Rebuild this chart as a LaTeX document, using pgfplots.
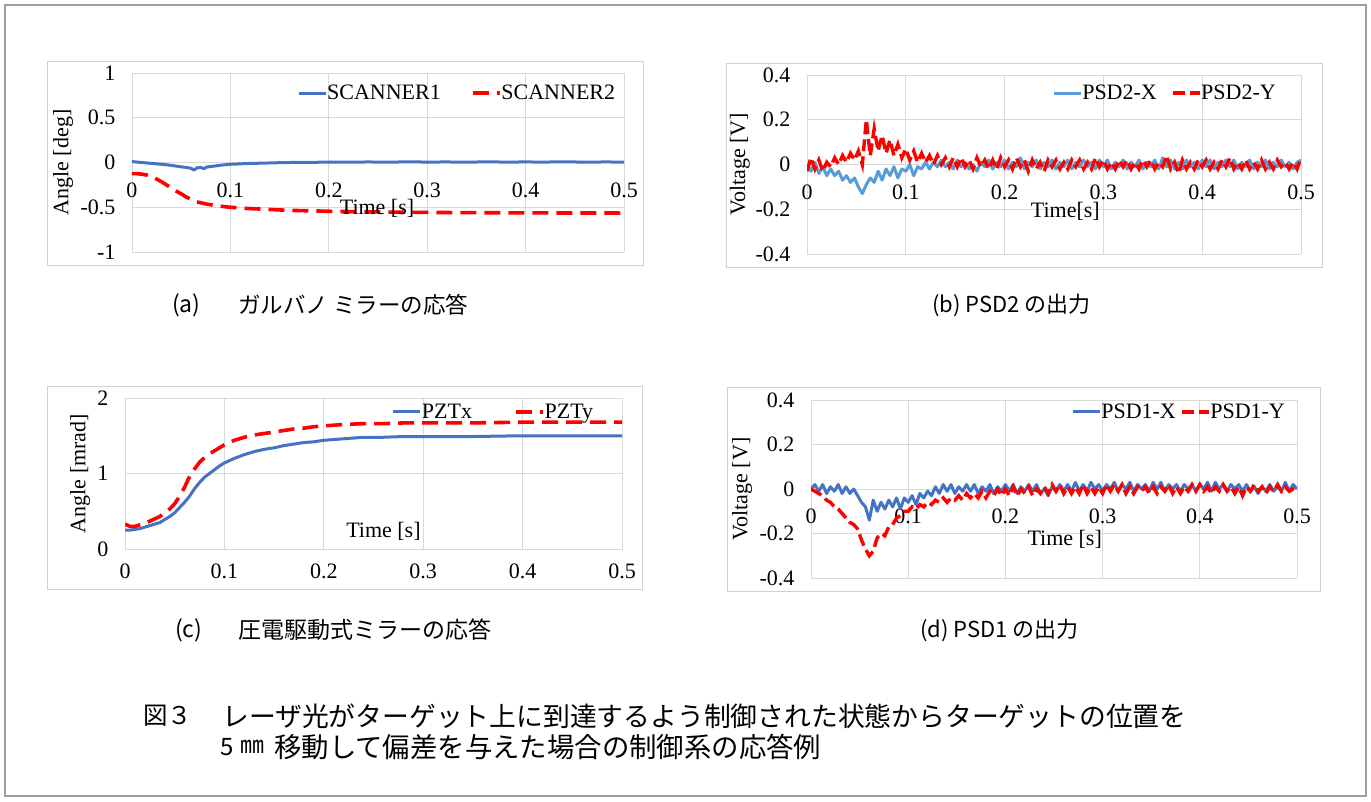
\documentclass[border=0pt]{standalone}
\usepackage{fontspec}
\setmainfont{Liberation Serif}
\newfontfamily\jp{Noto Sans CJK JP}
\usepackage{pgfplots}
\pgfplotsset{compat=1.18}
\usepackage{pgfplotstable}
\definecolor{xlblue}{HTML}{4472C4}
\definecolor{xlblueb}{HTML}{5B9BD5}
\definecolor{xlred}{HTML}{FF0000}
\definecolor{gridc}{HTML}{D9D9D9}
\definecolor{framec}{HTML}{D0D0D0}

\pgfplotstableread{
t s1 s2
0.000 0.010 -0.125
0.005 0.005 -0.125
0.010 0.000 -0.130
0.015 -0.005 -0.140
0.020 -0.010 -0.160
0.025 -0.015 -0.185
0.030 -0.020 -0.215
0.035 -0.025 -0.250
0.040 -0.032 -0.285
0.045 -0.040 -0.320
0.050 -0.048 -0.350
0.055 -0.055 -0.385
0.060 -0.065 -0.410
0.063 -0.085 -0.425
0.066 -0.060 -0.440
0.070 -0.055 -0.450
0.073 -0.070 -0.458
0.076 -0.050 -0.465
0.080 -0.045 -0.472
0.085 -0.038 -0.480
0.090 -0.030 -0.488
0.095 -0.025 -0.495
0.100 -0.020 -0.500
0.110 -0.015 -0.508
0.120 -0.010 -0.515
0.130 -0.008 -0.520
0.140 -0.005 -0.525
0.150 -0.002 -0.530
0.160 0.000 -0.534
0.170 0.002 -0.537
0.180 0.000 -0.540
0.190 0.003 -0.542
0.200 0.005 -0.545
0.220 0.004 -0.548
0.240 0.006 -0.551
0.260 0.004 -0.554
0.280 0.007 -0.556
0.300 0.005 -0.558
0.320 0.006 -0.559
0.340 0.004 -0.560
0.360 0.007 -0.561
0.380 0.005 -0.562
0.400 0.006 -0.563
0.420 0.005 -0.563
0.440 0.008 -0.564
0.460 0.004 -0.564
0.480 0.006 -0.564
0.500 0.005 -0.565
}\scantable

\pgfplotstableread{
t px py
0.000 0.25 0.33
0.005 0.25 0.30
0.010 0.26 0.30
0.015 0.27 0.32
0.020 0.29 0.34
0.025 0.31 0.37
0.030 0.33 0.40
0.035 0.35 0.43
0.040 0.39 0.48
0.045 0.43 0.53
0.050 0.48 0.60
0.055 0.55 0.70
0.060 0.62 0.82
0.065 0.70 0.96
0.070 0.80 1.06
0.075 0.88 1.15
0.080 0.95 1.21
0.085 1.00 1.26
0.090 1.05 1.30
0.095 1.10 1.34
0.100 1.14 1.38
0.110 1.20 1.44
0.120 1.25 1.48
0.130 1.29 1.51
0.140 1.32 1.53
0.150 1.34 1.55
0.160 1.37 1.57
0.170 1.39 1.59
0.180 1.41 1.60
0.190 1.42 1.62
0.200 1.44 1.63
0.220 1.46 1.65
0.240 1.48 1.66
0.260 1.48 1.66
0.280 1.49 1.67
0.300 1.49 1.67
0.350 1.49 1.67
0.400 1.50 1.68
0.450 1.50 1.68
0.500 1.50 1.68
}\pzttable

\pgfplotstableread{
t bx by dx dy
0.000 0.00 -0.03 0.00 0.00
0.004 -0.03 0.03 0.02 -0.01
0.008 0.01 -0.02 -0.01 -0.02
0.012 -0.04 0.02 0.02 -0.03
0.016 -0.01 -0.03 -0.02 -0.05
0.020 -0.05 0.01 0.01 -0.06
0.024 -0.02 -0.01 -0.01 -0.08
0.028 -0.05 0.03 0.02 -0.09
0.032 -0.03 0.00 -0.02 -0.11
0.036 -0.07 0.04 0.01 -0.13
0.040 -0.05 0.01 -0.02 -0.15
0.044 -0.08 0.05 0.00 -0.16
0.048 -0.06 0.02 -0.03 -0.18
0.052 -0.10 0.06 -0.06 -0.23
0.056 -0.13 0.00 -0.08 -0.27
0.060 -0.09 0.20 -0.14 -0.30
0.064 -0.06 0.04 -0.05 -0.28
0.068 -0.08 0.16 -0.10 -0.22
0.072 -0.03 0.06 -0.06 -0.20
0.076 -0.07 0.13 -0.09 -0.21
0.080 -0.02 0.05 -0.05 -0.17
0.084 -0.05 0.11 -0.08 -0.16
0.088 -0.01 0.04 -0.04 -0.13
0.092 -0.06 0.09 -0.09 -0.12
0.096 -0.02 0.03 -0.04 -0.10
0.100 -0.03 0.07 -0.06 -0.10
0.104 0.00 0.02 -0.03 -0.08
0.108 -0.05 0.06 -0.07 -0.09
0.112 -0.01 0.01 -0.02 -0.07
0.116 -0.02 0.05 -0.04 -0.08
0.120 0.01 0.01 -0.01 -0.06
0.124 -0.02 0.04 -0.03 -0.07
0.128 0.01 0.00 0.01 -0.05
0.132 -0.01 0.04 -0.02 -0.06
0.136 0.02 0.00 0.02 -0.04
0.140 -0.01 0.03 -0.01 -0.06
0.144 0.01 -0.01 0.02 -0.04
0.148 -0.02 0.03 -0.02 -0.05
0.152 0.02 -0.01 0.01 -0.03
0.156 -0.01 0.03 -0.01 -0.05
0.160 0.01 -0.01 0.02 -0.02
0.164 -0.02 0.02 -0.01 -0.04
0.168 0.00 -0.02 0.02 -0.02
0.172 -0.03 0.03 -0.02 -0.04
0.176 0.01 -0.01 0.01 -0.01
0.180 -0.01 0.02 -0.01 -0.04
0.184 0.02 -0.02 0.02 -0.01
0.188 -0.02 0.02 -0.02 -0.03
0.192 0.01 -0.02 0.01 0.00
0.196 -0.01 0.03 -0.01 -0.03
0.200 0.02 -0.01 0.02 0.00
0.204 -0.02 0.02 -0.01 -0.03
0.208 0.01 -0.02 0.02 0.01
0.212 -0.01 0.03 -0.02 -0.03
0.216 0.03 -0.01 0.01 0.00
0.220 -0.02 0.02 -0.01 -0.02
0.224 0.01 -0.03 0.02 0.01
0.228 -0.01 0.02 -0.01 -0.03
0.232 0.02 -0.02 0.02 0.00
0.236 -0.02 0.01 -0.02 -0.02
0.240 0.01 -0.03 0.00 0.01
0.244 -0.01 0.02 -0.03 -0.02
0.248 0.02 -0.01 0.01 0.02
0.252 -0.02 0.02 -0.01 -0.01
0.256 0.01 -0.02 0.02 0.02
0.260 -0.01 0.01 -0.01 -0.02
0.264 0.02 -0.02 0.02 0.01
0.268 -0.02 0.02 -0.01 -0.02
0.272 0.01 -0.01 0.03 0.01
0.276 -0.01 0.02 -0.01 -0.02
0.280 0.02 -0.02 0.02 0.02
0.284 -0.01 0.01 -0.01 -0.02
0.288 0.01 -0.02 0.03 0.01
0.292 -0.02 0.03 0.00 -0.02
0.296 0.02 -0.01 0.02 0.01
0.300 -0.01 0.02 -0.01 -0.02
0.304 0.02 -0.02 0.02 0.02
0.308 -0.02 0.01 0.00 -0.01
0.312 0.01 -0.02 0.03 0.02
0.316 -0.01 0.02 -0.01 -0.01
0.320 0.02 -0.01 0.02 0.02
0.324 -0.02 0.02 0.00 -0.02
0.328 0.01 -0.02 0.03 0.01
0.332 -0.01 0.01 -0.01 -0.02
0.336 0.02 -0.02 0.02 0.01
0.340 -0.02 0.02 0.00 -0.01
0.344 0.01 -0.01 0.02 0.01
0.348 -0.01 0.02 -0.01 -0.02
0.352 0.02 -0.02 0.03 0.01
0.356 -0.02 0.01 0.00 -0.02
0.360 0.03 -0.01 0.03 0.01
0.364 -0.01 0.04 -0.01 -0.01
0.368 0.02 -0.02 0.02 0.02
0.372 -0.02 0.01 0.00 -0.02
0.376 0.01 -0.04 0.02 0.01
0.380 -0.02 0.02 -0.01 -0.02
0.384 0.02 -0.02 0.02 0.01
0.388 -0.01 0.01 0.00 -0.01
0.392 0.01 -0.02 0.02 0.02
0.396 -0.02 0.02 -0.01 -0.01
0.400 0.02 -0.01 0.02 0.02
0.404 -0.01 0.02 0.00 -0.01
0.408 0.02 -0.02 0.03 0.01
0.412 -0.02 0.01 -0.01 -0.02
0.416 0.01 -0.02 0.03 0.01
0.420 -0.01 0.02 0.00 -0.01
0.424 0.02 -0.01 0.02 0.02
0.428 -0.01 0.03 -0.01 -0.01
0.432 0.02 -0.02 0.02 0.01
0.436 -0.02 0.01 0.00 -0.02
0.440 0.01 -0.02 0.02 0.01
0.444 -0.01 0.02 -0.01 -0.03
0.448 0.02 -0.02 0.02 0.01
0.452 -0.02 0.01 -0.01 -0.01
0.456 0.01 -0.02 0.01 0.02
0.460 -0.01 0.02 -0.02 -0.01
0.464 0.02 -0.02 0.01 0.01
0.468 -0.02 0.01 -0.01 -0.02
0.472 0.01 -0.02 0.02 0.01
0.476 -0.01 0.02 -0.01 -0.01
0.480 0.02 -0.01 0.01 0.02
0.484 -0.01 0.01 -0.01 -0.01
0.488 0.01 -0.02 0.03 0.01
0.492 -0.02 0.01 -0.01 -0.01
0.496 0.01 -0.02 0.02 0.00
0.500 0.02 0.03 0.00 -0.01
}\psdtable

\pgfplotsset{
  myaxis/.style={
    scale only axis,
    anchor=south west,
    xmin=0, xmax=0.5,
    xtick={0,0.1,0.2,0.3,0.4,0.5},
    xticklabels={0,0.1,0.2,0.3,0.4,0.5},
    grid=major,
    major grid style={draw=gridc, line width=0.8pt},
    axis line style={draw=gridc, line width=0.8pt, -},
    major tick length=0pt,
    tick style={draw=none},
    font=\fontsize{22}{26}\selectfont,
    yticklabel style={xshift=-13pt},
    legend style={draw=none, fill=none, inner sep=0pt, outer sep=0pt,
      legend columns=2, font=\fontsize{22}{26}\selectfont,
      nodes={inner sep=0pt}, anchor=east},
    legend cell align=left,
    legend image code/.code={\draw[##1] (0pt,0pt) -- (27pt,0pt);},
  },
  midx/.style={
    axis x line*=middle, axis y line*=left,
    hide obscured x ticks=false,
    xticklabel style={inner sep=1pt, yshift=-19.3pt},
  },
  bluel/.style={color=xlblue, line width=3pt, line join=round},
  blueb/.style={color=xlblueb, line width=3pt, line join=round},
  redl/.style={color=xlred, line width=3.6pt, dash pattern=on 16pt off 8pt},
  rednoisy/.style={color=xlred, line width=3.4pt, dash pattern=on 12pt off 5pt},
}

\begin{document}
\begin{tikzpicture}
\useasboundingbox (0,0) rectangle (1371pt,-801pt);
\fill[white] (0,0) rectangle (1371pt,-801pt);
\draw[gray!75, line width=1.6pt] (5pt,-5pt) rectangle (1366pt,-796pt);
\draw[framec, line width=1pt] (47pt,-61pt) rectangle (643pt,-265pt);
\draw[framec, line width=1pt] (726pt,-63pt) rectangle (1322pt,-267pt);
\draw[framec, line width=1pt] (47pt,-386pt) rectangle (642pt,-589pt);
\draw[framec, line width=1pt] (727pt,-387pt) rectangle (1320pt,-591pt);

% (a)
\begin{axis}[myaxis, midx, at={(132pt,-252pt)}, width=492pt, height=179pt,
  ymin=-1, ymax=1, ytick={-1,-0.5,0,0.5,1}, yticklabels={-1,-0.5,0,0.5,1},
  xlabel={Time [s]}, ylabel={Angle [deg]},
  every axis x label/.style={at={(axis description cs:0.498,0.246)}, anchor=center, inner sep=0pt},
  every axis y label/.style={at={(axis description cs:-0.140,0.5)}, rotate=90, anchor=center},
  legend style={at={(axis description cs:0.982,0.888)}}]
\addplot[bluel] table[x=t,y=s1]{\scantable};
\addlegendentry{SCANNER1\hspace*{30pt}\mbox{}}
\addplot[redl] table[x=t,y=s2]{\scantable};
\addlegendentry{SCANNER2}
\end{axis}

% (b)
\begin{axis}[myaxis, midx, at={(807pt,-254pt)}, width=494pt, height=179pt,
  ymin=-0.4, ymax=0.4, ytick={-0.4,-0.2,0,0.2,0.4}, yticklabels={-0.4,-0.2,0,0.2,0.4},
  xlabel={Time[s]}, ylabel={Voltage [V]},
  every axis x label/.style={at={(axis description cs:0.523,0.240)}, anchor=center, inner sep=0pt},
  every axis y label/.style={at={(axis description cs:-0.136,0.5)}, rotate=90, anchor=center},
  legend style={at={(axis description cs:0.949,0.899)}}]
\addplot[blueb] table[x=t,y=bx]{\psdtable};
\addlegendentry{PSD2-X\hspace*{14pt}\mbox{}}
\addplot[rednoisy] table[x=t,y=by]{\psdtable};
\addlegendentry{PSD2-Y}
\end{axis}

% (c)
\begin{axis}[myaxis, at={(125pt,-549pt)}, width=497pt, height=151pt,
  ymin=0, ymax=2, ytick={0,1,2}, yticklabels={0,1,2},
  xticklabel style={yshift=-11pt},
  xlabel={Time [s]}, ylabel={Angle [mrad]},
  every axis x label/.style={at={(axis description cs:0.52,0.12)}, anchor=center},
  every axis y label/.style={at={(axis description cs:-0.0905,0.5)}, rotate=90, anchor=center},
  legend style={at={(axis description cs:0.942,0.909)}}]
\addplot[bluel] table[x=t,y=px]{\pzttable};
\addlegendentry{PZTx\hspace*{42pt}\mbox{}}
\addplot[redl] table[x=t,y=py]{\pzttable};
\addlegendentry{PZTy}
\end{axis}

% (d)
\begin{axis}[myaxis, midx, at={(811pt,-578pt)}, width=486pt, height=178pt,
  ymin=-0.4, ymax=0.4, ytick={-0.4,-0.2,0,0.2,0.4}, yticklabels={-0.4,-0.2,0,0.2,0.4},
  xticklabel style={yshift=1pt},
  xlabel={Time [s]}, ylabel={Voltage [V]},
  every axis x label/.style={at={(axis description cs:0.522,0.215)}, anchor=center, inner sep=0pt},
  every axis y label/.style={at={(axis description cs:-0.142,0.5)}, rotate=90, anchor=center},
  legend style={at={(axis description cs:0.975,0.933)}}]
\addplot[bluel] table[x=t,y=dx]{\psdtable};
\addlegendentry{PSD1-X\hspace*{4pt}\mbox{}}
\addplot[rednoisy] table[x=t,y=dy]{\psdtable};
\addlegendentry{PSD1-Y}
\end{axis}

% sub-captions
\node[anchor=west, inner sep=0pt, font=\jp\fontsize{23}{26}\selectfont] at (172pt,-305pt) {(a)};
\node[anchor=west, inner sep=0pt, font=\jp\fontsize{22.5}{26}\selectfont] at (238pt,-305pt) {ガルバノ\hspace{5pt}ミラーの応答};
\node[anchor=west, inner sep=0pt, font=\jp\fontsize{22}{26}\selectfont] at (932pt,-305pt) {(b) PSD2 の出力};
\node[anchor=west, inner sep=0pt, font=\jp\fontsize{23}{26}\selectfont] at (175pt,-630pt) {(c)};
\node[anchor=west, inner sep=0pt, font=\jp\fontsize{23}{26}\selectfont] at (238pt,-630pt) {圧電駆動式ミラーの応答};
\node[anchor=west, inner sep=0pt, font=\jp\fontsize{22}{26}\selectfont] at (920pt,-630pt) {(d) PSD1 の出力};

% figure caption
\node[anchor=west, inner sep=0pt, font=\jp\fontsize{24.5}{28}\selectfont] at (143pt,-716pt) {図３};
\node[anchor=west, inner sep=0pt, font=\jp\fontsize{26.8}{30}\selectfont] at (222pt,-716pt) {レーザ光がターゲット上に到達するよう制御された状態からターゲットの位置を};
\node[anchor=west, inner sep=0pt, font=\jp\fontsize{24}{28}\selectfont] at (220pt,-747pt) {5};
\node[anchor=west, inner sep=0pt, font=\jp\fontsize{24}{28}\selectfont] at (240pt,-747pt) {㎜};
\node[anchor=west, inner sep=0pt, font=\jp\fontsize{27.4}{30}\selectfont] at (274pt,-747pt) {移動して偏差を与えた場合の制御系の応答例};
\end{tikzpicture}
\end{document}
